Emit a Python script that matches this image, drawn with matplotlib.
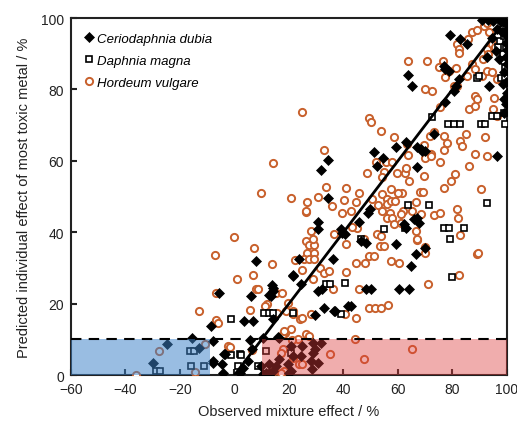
import matplotlib
matplotlib.use("Agg")
import matplotlib.pyplot as plt
from matplotlib.patches import Rectangle

plt.rcParams['font.family'] = ['Liberation Sans', 'DejaVu Sans']

# Ceriodaphnia dubia (filled diamonds)
cd_x = [-5.5, -8.5, -15.5, -7.7, -24.8, -13, -3.3, -29.9, -7.7, -4.5, -4.3, -7.8, -4,
        3.4, 6.7, 5.9, 7.9, 5.7, 4.9, 3, 2, 6.5,
        21.6, 13.8, 14.3, 12.8, 14, 10.4, 16.5,
        20.7, 24.8, 28.7, 31.7, 29.6, 21.3, 24.4, 28.7, 12.8, 16.2, 28, 30.5, 28.6, 9.8, 10.4, 20,
        20.7, 19.5, 15.2, 14, 12.8, 11.6, 16.1,
        34.4, 31.7, 34.4, 30.5, 30.5, 39.6, 40.5, 49.1, 23.8, 21.3, 24.4, 14, 13.4, 30.5, 32.3,
        32.9, 36.6, 41.8, 29.5, 48.2, 50, 60.4, 64, 59.2, 64.6, 66.5, 70.1, 62.2, 65.9, 67.7,
        46.3, 48.2, 36, 42.7, 37, 39, 45.7, 62.8,
        51.2, 52.4, 59.2, 62.8, 67.1, 68.9, 66.8, 73.2, 54.5, 68.3, 70.1, 49.8, 67.1,
        79, 82.9, 85.4, 77.4, 78.9, 63.7, 65, 82.3, 81.3, 80.5, 77.1, 93.3, 96, 97.2, 98.5,
        96.3, 92.7, 98.8, 98.8, 76.8,
        91, 93, 95, 97, 98.5, 99.5, 100, 100, 99.5, 100, 99.5, 100, 99, 99.8, 100, 99.5,
        96.5, 98, 94.5]
cd_y = [22.9, 13.7, 10.5, 9.4, 8.8, 7.5, 5.8, 3.3, 3.9, 3, 0.7, 3.5, 6,
        15, 15, 22, 31.8, 9.9, 3.9, 2, 0.5, 7.2,
        28, 25.1, 23.5, 22.3, 15.6, 10.5, 10.5,
        8, 8, 8.9, 8.9, 7.2, 5.3, 5.3, 6.3, 3, 4.4, 3.9, 3.5, 1.6, 2.5, 0.2, 0.5,
        1.1, 3, 2.5, 1.1, 0.7, 0.7, 10.7,
        60.3, 57.4, 49.5, 42.9, 41, 39.9, 39.4, 45.5, 32.4, 27.8, 25.4, 24.5, 22.1, 23.5, 24.2,
        18.9, 18, 19.2, 16.7, 24, 24, 24, 24.2, 36.6, 30.6, 33.8, 35.7, 42.2, 43.6, 42.7,
        37.6, 37.1, 32.4, 19.2, 18, 40.8, 42.9, 41.3,
        62.5, 58.6, 63.8, 65.3, 63.8, 62.8, 58.3, 67.5, 60.7, 63.3, 62.8, 46.6, 44.1,
        95.3, 94.1, 92.7, 85.7, 85.2, 84, 80.9, 82.9, 81, 79.5, 76.6, 81, 90.8, 88.5, 81.5,
        61.4, 89, 77.3, 73.4, 86.6,
        99.5, 99.5, 99.3, 99.5, 99, 98.5, 97, 95, 93, 91, 89, 87, 85, 82, 79, 76,
        97, 96, 94.5]

# Daphnia magna (open squares)
dm_x = [-1.2, -16.5, -15, -1.2, -28.7, -27.2, -16.1, -11.2, 1.2, 2.1, 8.5, 2.5,
        11, 12.6, 14, 21.3, 33.5, 35, 40.5, 39.2,
        46.3, 54.7, 62.5, 63.5, 71.3, 76.8, 78.8, 84.2, 79.2, 80, 92.7,
        72.6, 78.3, 80.5, 82.9, 90.3, 91.8, 89, 89.6, 97.8, 99.2, 94.5, 96.3, 99.2, 99,
        96.7, 97.5, 98.8, 99.3, 99.5, 98.5, 99, 99.3, 11.6, 20.7]
dm_y = [15.6, 6.7, 6.7, 5.5, 1.1, 1.1, 2.5, 2.5, 2.5, 5.9, 2.5, 5.5,
        17.5, 17.5, 17.3, 17.3, 25.5, 25.5, 25.9, 17,
        38, 41, 41.3, 47.7, 47.7, 41.3, 41.3, 41.3, 38.2, 27.4, 48.3,
        72.2, 70.3, 70.3, 70.3, 70.3, 70.3, 83.3, 83.8, 83.1, 83.1, 72.6, 72.6, 70.3, 73.3,
        91.8, 93.5, 95, 96, 92, 90, 88, 86, 6.7, 6.3]

# Hordeum vulgare (open circles)
hv_x = [-0.3, -7.3, 0.8, -6.7, -13.2, -6.9, -6, -11, -27.8, -2.2, -14.6, -36.3,
        6.7, 7.9, 7.3, 5.7, 6.3, -1.8,
        13.8, 8.8, 15.2, 17.5, 11.8, 15.6, 18.9, 21.3, 24, 20.7, 18.6, 17.7,
        23.2, 17.7, 23.8, 14.6, 35, 44.3, 65.3, 47.6, 17.1, 21.3, 24.8, 18.3, 17.1, 21.1,
        26.2, 27.4, 18.3,
        21.3, 24.8, 27.9, 11.3, 19.5, 26.2, 28, 26.2, 27.4, 29, 26.5, 29.3, 25.6, 27.4, 29.3,
        22.3, 31.5, 32.7, 34.8, 24.8, 28.7, 36, 44.5, 47.9, 49.4, 51.2, 53.4, 54.9, 57.3,
        60.4, 41.1, 45.7, 49.4, 51.5, 53.7, 56.5, 44.5, 40.6, 67.1, 70.1, 71.1, 73.4, 75.6,
        82.1, 82.3, 82.8, 89,
        32.7, 14, 9.8, 20.7, 26.5, 26.2, 30.8, 33.5, 35.7, 28.7, 36.6, 24.8,
        53.7, 58.5, 63.4, 69.5, 72, 70.1, 63.7, 51.8, 55.5, 57.9, 54.9, 48.8, 59.8, 62.5,
        62.8, 54.3, 64, 69.5, 40.9, 45.7, 54, 56.1, 57.6, 61.6, 68.1, 69.3, 40.2, 44.5,
        50.6, 52.5, 54, 56, 57.5, 57, 66.5, 42.7, 39.6, 45, 43, 56.1, 57.9, 65.2, 68.5,
        58.5, 61, 52.4, 53.7, 47.6, 40.9, 66.8, 69.8, 66.5,
        49.4, 50, 63.8, 70.8, 69.9, 72.6, 76.5, 75, 77.2, 78.7, 81.3, 80.5, 81.7, 81.5,
        82.3, 82.3, 85.7, 87.2, 89, 87.2, 88.4, 90.9, 92.7, 94.5, 85.4, 88.4, 89, 91.3,
        92.5, 93, 93.3, 94.5, 95.7, 96.3, 95, 95.1, 96.3, 75.6, 77, 78, 77, 75.6, 79.3,
        81.1, 76.8, 81.7, 82.9, 83.5, 84.8, 86, 88.4, 88.4, 86, 90.3, 92.1, 92.7, 72.3,
        71.6, 73.2, 60, 59, 61.7, 61, 91.5, 92.5, 89.4]
hv_y = [38.7, 33.6, 26.8, 22.9, 17.9, 15.3, 14.7, 8.8, 6.7, 8, 0.8, 0,
        28.1, 24, 35.7, 18.1, 6.9, 7.9,
        31, 24, 23.1, 23.1, 19.8, 17.5, 18, 17.9, 15.8, 12.8, 11.7, 11.4,
        10, 7.2, 3, 1.1, 5.8, 10, 7.2, 4.6, 6.3, 4.9, 3, 1.1, 0.7, 9.8,
        11.4, 10.9, 12.3,
        17, 16.1, 17, 19.3, 20.3, 45.8, 40.4, 37.5, 36.5, 36.5, 34.2, 34.2, 32.4, 32.4, 32.4,
        32.2, 30.1, 28.7, 29.2, 29.4, 26.8, 24, 31.5, 31.5, 33.4, 33.4, 36.2, 36.2, 32,
        31.5, 28.9, 24, 18.9, 18.9, 18.9, 19.5, 16.1, 17, 37.8, 34.3, 25.4, 44.9, 45.5,
        44.1, 28, 39.2, 33.8,
        63.1, 59.5, 51.1, 49.7, 48.6, 46, 49.9, 52.7, 47.4, 38, 39.6, 73.8,
        68.4, 66.8, 64.7, 64.4, 61.9, 60.9, 61.6, 59.7, 59.8, 59.7, 56.9, 56.5, 56.5, 56.7,
        57.9, 55.5, 54.4, 55.8, 52.5, 51.1, 50.7, 49.3, 52.2, 50.9, 51.3, 51.3, 49, 48.5,
        49.3, 47.5, 46, 48, 48.8, 45.5, 48.5, 46, 45.5, 41.3, 41.5, 43.9, 44.1, 46, 45,
        42.2, 42.5, 39.4, 39, 38, 36.6, 38, 36, 40.4,
        72, 70.9, 87.9, 87.9, 80.1, 79.6, 88, 86.2, 83.4, 85.2, 85.9, 81, 81, 92.7,
        91.3, 90.2, 94.1, 96, 96.6, 87.1, 85.7, 83.8, 85.2, 84.8, 83.8, 78.2, 77.3, 88.6,
        91.4, 90, 96, 92.7, 91.8, 82.9, 74.5, 77.6, 72.6, 75, 67, 65, 63, 59.8, 54.4,
        56.3, 52.3, 46.6, 65.6, 64.2, 67.5, 74.5, 75.4, 62, 58.6, 52, 66.6, 61.4, 61.4,
        67, 68, 51, 48.7, 46, 45, 97.8, 98.5, 34.1]

x_ticks = [-60, -40, -20, 0, 20, 40, 60, 80, 100]
y_ticks = [0, 20, 40, 60, 80, 100]

fig = plt.figure(figsize=(5.17, 4.27), dpi=100)
ax = fig.add_axes([0.1373, 0.1194, 0.8433, 0.836])

hv_col = '#c8602c'
ax.plot(hv_x, hv_y, 'o', ms=5.2, mfc='white', mec=hv_col, mew=1.4, ls='none',
        label='Hordeum vulgare', zorder=3)
ax.plot(dm_x, dm_y, 's', ms=4.8, mfc='white', mec='black', mew=1.2, ls='none',
        label='Daphnia magna', zorder=4)
ax.plot(cd_x, cd_y, 'D', ms=5.6, mfc='black', mec='black', mew=0.5, ls='none',
        label='Ceriodaphnia dubia', zorder=5)

# 1:1 line
ax.plot([0, 100], [0, 100], color='black', lw=2, zorder=6)

# shaded regions drawn over the points
ax.add_patch(Rectangle((-60, 0), 51, 10, facecolor='#3c82c8', alpha=0.52,
                       edgecolor='none', zorder=7))
ax.add_patch(Rectangle((10, 0), 90, 10, facecolor='#dc3c3c', alpha=0.42,
                       edgecolor='none', zorder=7))
ax.axhline(10, color='black', lw=1.5, ls=(0, (5, 3.5)), zorder=8)

ax.set_xlim(-60, 100)
ax.set_ylim(0, 100)
ax.set_xticks(x_ticks)
ax.set_yticks(y_ticks)
ax.tick_params(direction='in', length=4, width=1.5, labelsize=10,
               colors='#222222', pad=5)
for s in ax.spines.values():
    s.set_linewidth(1.5)
    s.set_color('#222222')

ax.set_xlabel('Observed mixture effect / %', fontsize=10.5, color='#222222', labelpad=6)
ax.set_ylabel('Predicted individual effect of most toxic metal / %', fontsize=10.5,
              color='#222222', labelpad=7)

handles, labels = ax.get_legend_handles_labels()
order = [2, 1, 0]
ax.legend([handles[i] for i in order], [labels[i] for i in order], loc='upper left',
          frameon=False, prop={'style': 'italic', 'size': 9.5}, handlelength=0.6,
          handletextpad=0.3, labelspacing=0.75, borderaxespad=0.7)

fig.savefig('out.png', dpi=100)
